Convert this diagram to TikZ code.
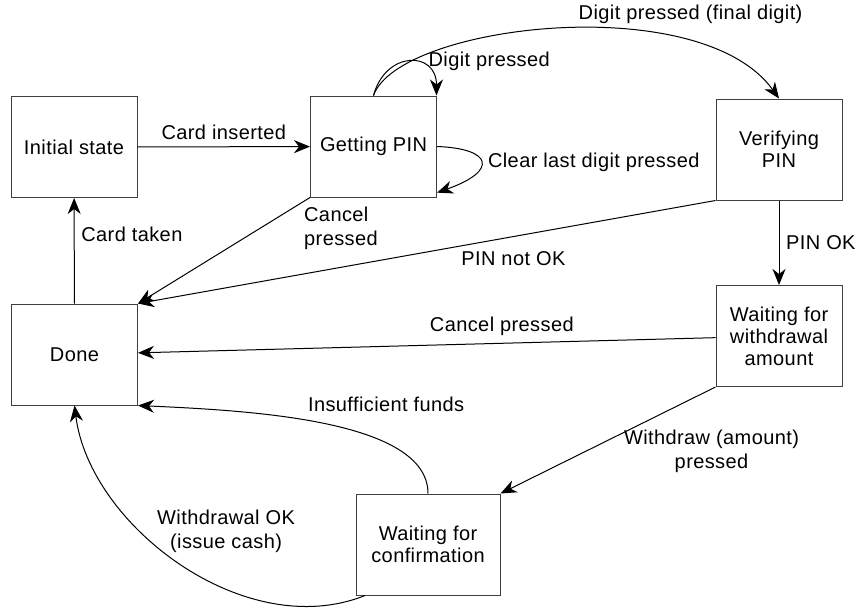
\documentclass[tikz,border=0pt]{standalone}
\usepackage{fontspec}
\setmainfont{Liberation Sans}[LetterSpace=2]
\usetikzlibrary{arrows.meta}

\begin{document}
\begin{tikzpicture}
	[x=0.5pt,y=-0.5pt,
	%Styles
	every node/.append style={font=\fontsize{10}{12}\selectfont},
	state/.style={draw=black!75,line width=0.5pt,minimum width=63pt,minimum height=50.5pt,
		align=center,font=\fontsize{10}{11}\selectfont},
	wide state/.style={state,minimum width=72pt},
	trans/.style={-{Stealth[length=8pt,width=6.5pt,inset=2.5pt]},line width=0.5pt}
	]
	
	\useasboundingbox (0,0) rectangle (855,612);
	
	%The states
	\node[state] (init) at (74,147) {Initial state};
	\node[state] (getpin) at (373.5,146.5) {Getting PIN};
	\node[state] (verify) at (779,149.5) {Verifying\\PIN};
	\node[state] (done) at (74.5,354.5) {Done};
	\node[state] (withdraw) at (779,336) {Waiting for\\withdrawal\\amount};
	\node[wide state] (confirm) at (428,544.5) {Waiting for\\confirmation};
	
	%Straight transitions
	\path[trans]
		(init) edge node[above] {Card inserted} (getpin)
		(getpin.south west) edge node[at start,anchor=north west,xshift=-6.5pt,yshift=-1pt,align=left] {Cancel\\pressed} (done.north east)
		(verify.south west) edge node[pos=0.35,below=4pt] {PIN not OK} (done.north east)
		(verify) edge node[right] {PIN OK} (withdraw)
		(done) edge node[pos=0.66,right] {Card taken} (init)
		(withdraw) edge node[pos=0.37,above] {Cancel pressed} (done)
		(withdraw.south west) edge node[at start,below=18pt,xshift=-2pt,align=center] {Withdraw (amount)\\pressed} (confirm.north east);
	
	%Curved transitions
	\draw[trans] (getpin.north) .. controls +(12,-45) and +(0,-45) .. (getpin.39)
		node[pos=0.5,right=6pt] {Digit pressed};
	\draw[trans] (getpin.east) .. controls +(55,2) and +(62,-22) .. (getpin.-36)
		node[pos=0.5,right] {Clear last digit pressed};
	\draw[trans] (getpin.north) .. controls +(25,-71) and +(-79,-110) .. (verify.north)
		node[pos=0.76,above=6pt] {Digit pressed (final digit)};
	\draw[trans] (confirm.north) .. controls +(0,-74) and +(110,5) .. (done.south east)
		node[pos=0.3,above=12pt] {Insufficient funds};
	\draw[trans] (confirm.219) .. controls +(-120,48) and +(15,120) .. (done.south)
		node[pos=0.42,above=10pt,xshift=9pt,align=center] {Withdrawal OK\\(issue cash)};
\end{tikzpicture}
\end{document}
